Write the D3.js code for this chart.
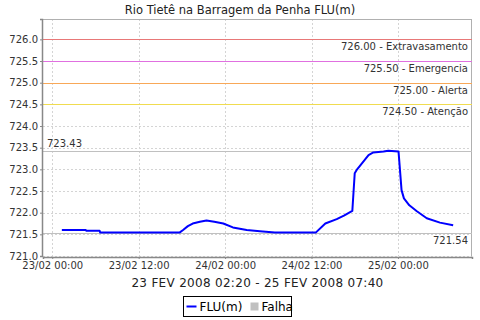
<!DOCTYPE html>
<html>
<head>
<meta charset="utf-8">
<script src="https://cdn.jsdelivr.net/npm/d3@7"></script>
<style>
body { margin: 0; background: #fff; }
text { font-family: "DejaVu Sans", sans-serif; }
</style>
</head>
<body>
<svg id="chart"></svg>
<script>
// leituras FLU(m)
var times = [
	"2008-02-23T01:20", "2008-02-23T04:40", "2008-02-23T04:45", "2008-02-23T06:35",
	"2008-02-23T06:40", "2008-02-23T17:40", "2008-02-23T18:10", "2008-02-23T18:50",
	"2008-02-23T19:30", "2008-02-23T20:30", "2008-02-23T21:25", "2008-02-23T22:30",
	"2008-02-23T23:45", "2008-02-24T01:05", "2008-02-24T03:00", "2008-02-24T04:50",
	"2008-02-24T06:55", "2008-02-24T12:35", "2008-02-24T13:55", "2008-02-24T15:30",
	"2008-02-24T16:30", "2008-02-24T17:40", "2008-02-24T18:00", "2008-02-24T18:20",
	"2008-02-24T19:00", "2008-02-24T19:55", "2008-02-24T20:35", "2008-02-24T22:00",
	"2008-02-24T22:40", "2008-02-25T00:05", "2008-02-25T00:30", "2008-02-25T00:50",
	"2008-02-25T01:35", "2008-02-25T02:35", "2008-02-25T04:00", "2008-02-25T05:50",
	"2008-02-25T07:40"
];
var levels = [
	721.60, 721.60, 721.58, 721.58,
	721.54, 721.54, 721.60, 721.69,
	721.75, 721.79, 721.82, 721.79,
	721.75, 721.66, 721.60, 721.57,
	721.54, 721.54, 721.75, 721.85,
	721.93, 722.04, 722.91, 723.00,
	723.14, 723.33, 723.39, 723.41,
	723.43, 723.41, 722.52, 722.33,
	722.17, 722.04, 721.87, 721.77,
	721.71
];

var limitValues = [726.00, 725.50, 725.00, 724.50];
var limitNames = ["Extravasamento", "Emergencia", "Alerta", "Atenção"];
var limitColors = ["#e87878", "#e070e0", "#f8a858", "#f0dc50"];

var yTicks = [721.0, 721.5, 722.0, 722.5, 723.0, 723.5, 724.0, 724.5, 725.0, 725.5, 726.0];
var xTicks = ["2008-02-23T00:00", "2008-02-23T12:00", "2008-02-24T00:00", "2008-02-24T12:00", "2008-02-25T00:00"];

var title = "Rio Tietê na Barragem da Penha FLU(m)";
var subtitle = "23 FEV 2008 02:20 - 25 FEV 2008 07:40";

var margin = { top: 19, right: 8, bottom: 64, left: 43 },
	width = 480 - margin.left - margin.right,
	height = 320 - margin.top - margin.bottom;

var parse = d3.timeParse("%Y-%m-%dT%H:%M");
var data = times.map(function(t, i) { return { date: parse(t), value: levels[i] }; });

var svg = d3.select("#chart")
	.attr("width", 480)
	.attr("height", 320);
var g = svg.append("g")
	.attr("transform", "translate(" + margin.left + "," + margin.top + ")");

var x = d3.scaleTime()
	.domain([parse("2008-02-22T22:43"), parse("2008-02-25T10:17")])
	.range([0, width]);

var y = d3.scaleLinear()
	.domain([721, 726.47])
	.range([height, 0]);

var crisp = function(p) { return Math.round(p) + 0.5; };

var maxV = d3.max(levels), minV = d3.min(levels);

// grade tracejada
g.selectAll(".vgrid")
	.data(xTicks.map(parse))
	.enter().append("line")
	.attr("x1", function(d) { return crisp(x(d)); })
	.attr("x2", function(d) { return crisp(x(d)); })
	.attr("y1", 0).attr("y2", height)
	.attr("stroke", "#d4d4d4")
	.attr("stroke-dasharray", "2,2");

g.selectAll(".hgrid")
	.data(yTicks.filter(function(v) { return limitValues.indexOf(v) < 0; }))
	.enter().append("line")
	.attr("x1", 0).attr("x2", width)
	.attr("y1", function(d) { return crisp(y(d)); })
	.attr("y2", function(d) { return crisp(y(d)); })
	.attr("stroke", "#d4d4d4")
	.attr("stroke-dasharray", "2,2");

// borda do plot
g.append("line").attr("x1", 0).attr("x2", width).attr("y1", 0.5).attr("y2", 0.5).attr("stroke", "#b0b0b0");
g.append("line").attr("x1", width - 0.5).attr("x2", width - 0.5).attr("y1", 0).attr("y2", height).attr("stroke", "#b0b0b0");

// maximo e minimo
[maxV, minV].forEach(function(v) {
	g.append("line")
		.attr("x1", 0).attr("x2", width)
		.attr("y1", crisp(y(v))).attr("y2", crisp(y(v)))
		.attr("stroke", "#c0c0c0");
});
g.append("text")
	.attr("x", 4).attr("y", y(maxV) - 4)
	.attr("font-size", 10).attr("fill", "#333")
	.text(d3.format(".2f")(maxV));
g.append("text")
	.attr("x", width - 4).attr("y", y(minV) + 11)
	.attr("text-anchor", "end")
	.attr("font-size", 10).attr("fill", "#333")
	.text(d3.format(".2f")(minV));

// serie
var line = d3.line()
	.x(function(d) { return x(d.date); })
	.y(function(d) { return y(d.value); });

g.append("path")
	.datum(data)
	.attr("d", line)
	.attr("fill", "none")
	.attr("stroke", "#0000ff")
	.attr("stroke-width", 2)
	.attr("stroke-linejoin", "round");

// linhas de limite
var limits = g.append("g").attr("class", "limits");
limits.selectAll("line")
	.data(limitValues)
	.enter().append("line")
	.attr("x1", 0).attr("x2", width)
	.attr("y1", function(d) { return crisp(y(d)); })
	.attr("y2", function(d) { return crisp(y(d)); })
	.style("stroke", function(d, i) { return limitColors[i]; })
	.style("stroke-width", 1);
limits.selectAll("text")
	.data(limitValues)
	.enter().append("text")
	.attr("x", width - 4)
	.attr("y", function(d) { return y(d) + 11; })
	.attr("text-anchor", "end")
	.attr("font-size", 10)
	.attr("fill", "#333")
	.text(function(d, i) { return d3.format(".2f")(d) + " - " + limitNames[i]; });

// eixos
var yAxis = d3.axisLeft(y)
	.tickValues(yTicks)
	.tickFormat(d3.format(".1f"))
	.tickSize(2)
	.tickPadding(2);

var xAxis = d3.axisBottom(x)
	.tickValues(xTicks.map(parse))
	.tickFormat(d3.timeFormat("%d/%m %H:%M"))
	.tickSize(2)
	.tickPadding(3);

var gy = g.append("g").attr("transform", "translate(-1,0)").call(yAxis);
var gx = g.append("g").attr("transform", "translate(0," + (height + 1) + ")").call(xAxis);

[gy, gx].forEach(function(a) {
	a.select(".domain").attr("stroke", "#888").attr("stroke-width", 1.5);
	a.selectAll(".tick line").attr("stroke", "#888");
	a.selectAll("text").attr("font-size", 10).attr("fill", "#333").attr("font-family", "DejaVu Sans, sans-serif");
});
gy.selectAll(".tick text").attr("dy", "0.3em");

// titulos
svg.append("text")
	.attr("x", 240).attr("y", 14)
	.attr("text-anchor", "middle")
	.attr("font-size", 11.5).attr("fill", "#222")
	.text(title);

svg.append("text")
	.attr("x", margin.left + width / 2).attr("y", 287)
	.attr("text-anchor", "middle")
	.attr("font-size", 12).attr("fill", "#222")
	.attr("letter-spacing", 0.3)
	.text(subtitle);

// legenda
var lg = svg.append("g").attr("transform", "translate(183.5,296.5)");
lg.append("rect").attr("width", 108).attr("height", 20).attr("fill", "#fff").attr("stroke", "#000");
lg.append("line").attr("x1", 3).attr("x2", 13).attr("y1", 10).attr("y2", 10).attr("stroke", "#0000ff").attr("stroke-width", 2);
lg.append("text").attr("x", 16).attr("y", 14.5).attr("font-size", 12).attr("fill", "#000").text("FLU(m)");
lg.append("rect").attr("x", 67).attr("y", 6).attr("width", 8).attr("height", 8).attr("fill", "#c0c0c0");
lg.append("text").attr("x", 78).attr("y", 14.5).attr("font-size", 12).attr("fill", "#000").text("Falha");
</script>
</body>
</html>
